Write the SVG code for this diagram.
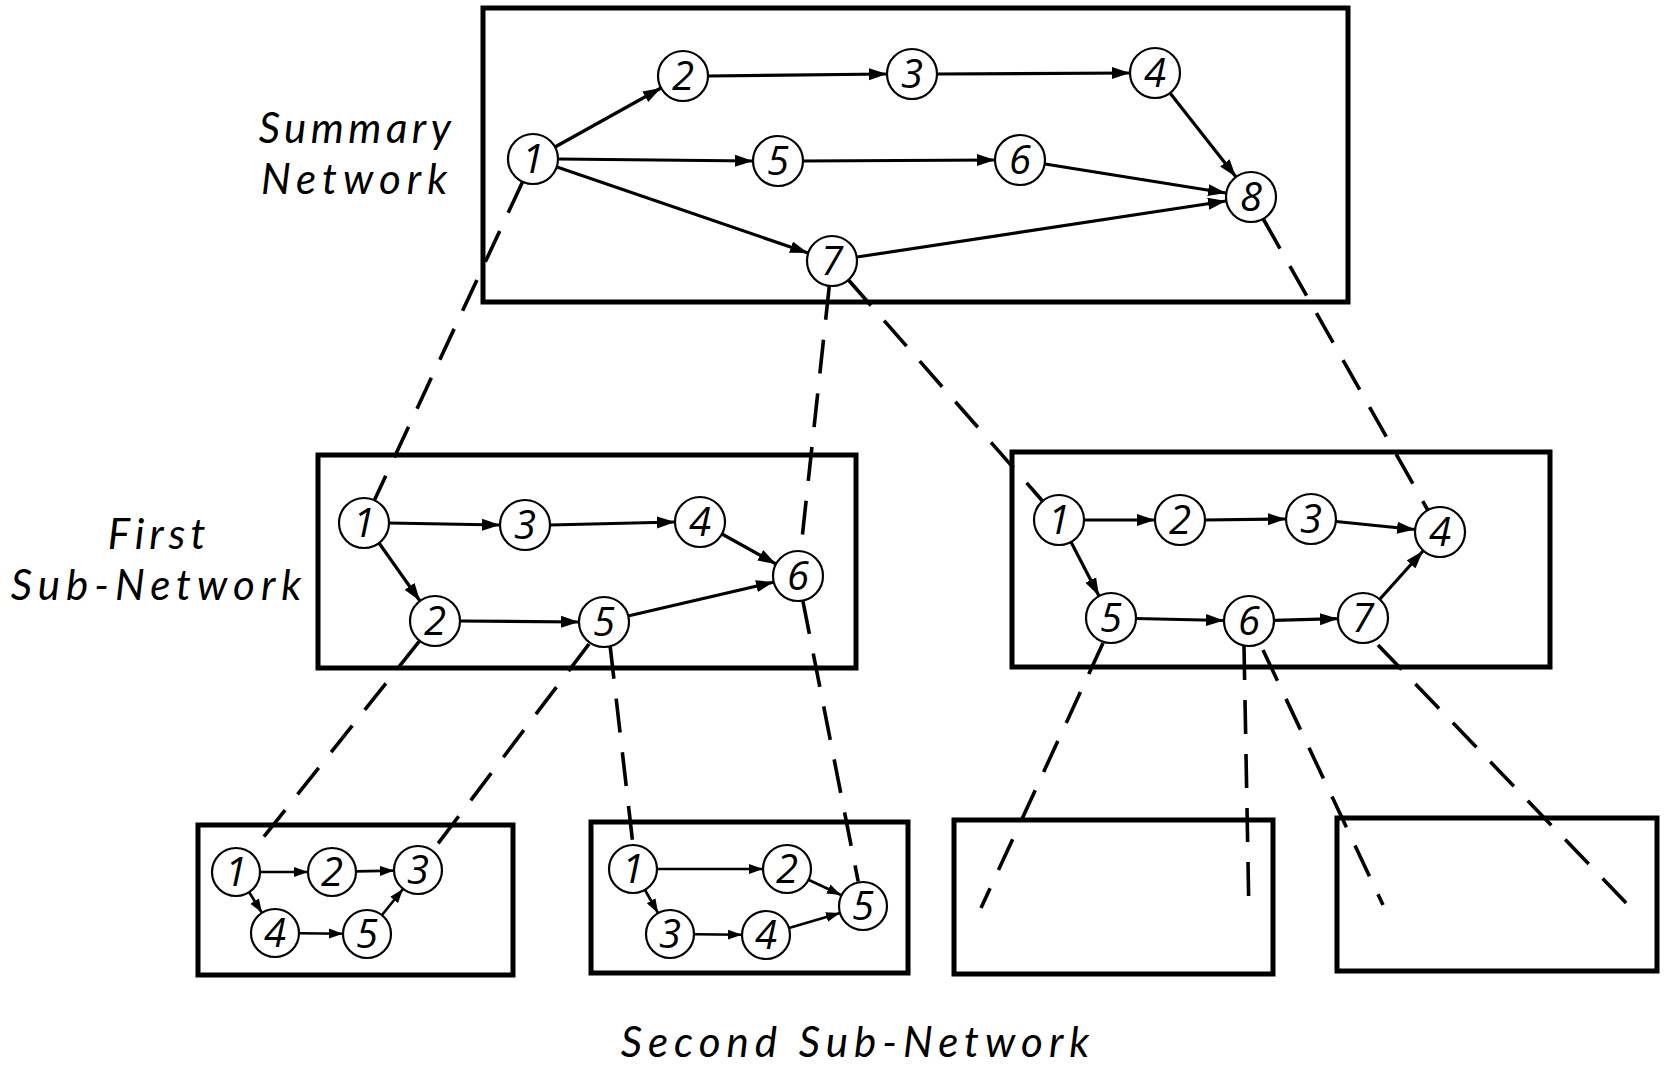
<svg xmlns="http://www.w3.org/2000/svg" width="1668" height="1070" viewBox="0 0 1668 1070">
<style>
.box{fill:none;stroke:#000;stroke-width:5;stroke-linejoin:miter}
.nd circle{fill:#fff;stroke:#000;stroke-width:2.2}
.nd text{font-family:"Open Sans","DejaVu Sans",sans-serif;font-style:italic;font-size:40px;text-anchor:middle;fill:#000}
.e{stroke:#000;stroke-width:3.2;fill:none;marker-end:url(#ah)}
.es{stroke:#000;stroke-width:2.6;fill:none;marker-end:url(#ahs)}
.d{stroke:#000;stroke-width:3.6;fill:none;stroke-dasharray:34 20}
.lbl{font-family:Lato,"Liberation Sans",sans-serif;font-style:italic;font-size:42px;text-anchor:middle;fill:#000;letter-spacing:5px}
</style>
<defs>
<marker id="ah" markerUnits="userSpaceOnUse" markerWidth="19" markerHeight="13" refX="18" refY="6.5" orient="auto"><path d="M0,0.5 L18,6.5 L0,12.5 z" fill="#000"/></marker>
<marker id="ahs" markerUnits="userSpaceOnUse" markerWidth="15" markerHeight="11" refX="14" refY="5.5" orient="auto"><path d="M0,0.5 L14,5.5 L0,10.5 z" fill="#000"/></marker>
</defs>
<rect width="1668" height="1070" fill="#fff"/>

<g id="labels">
<text class="lbl" x="357" y="143"><tspan x="357" y="143" style="letter-spacing:4.5px">Summary</tspan><tspan x="357" y="194" style="letter-spacing:6px">Network</tspan></text>
<text class="lbl" x="159" y="549"><tspan x="159" y="549">First</tspan><tspan x="159" y="600" style="letter-spacing:6px">Sub-Network</tspan></text>
<text class="lbl" x="858" y="1057" style="letter-spacing:6px">Second Sub-Network</text>
</g>

<g id="boxes">
<rect id="box-summary" class="box" x="483" y="8" width="865" height="294"/>
<rect id="box-first" class="box" x="318" y="455" width="538" height="213"/>
<rect id="box-first-b" class="box" x="1012" y="452" width="538" height="215"/>
<rect id="box-second-a" class="box" x="198" y="825" width="315" height="150"/>
<rect id="box-second-b" class="box" x="591" y="822" width="317" height="151"/>
<rect id="box-second-c" class="box" x="954" y="820" width="319" height="154"/>
<rect id="box-second-d" class="box" x="1337" y="818" width="320" height="153"/>
</g>

<g id="connectors">
<!-- summary network -->
<line class="e" x1="555" y1="147" x2="661" y2="88"/>
<line class="e" x1="708" y1="76" x2="887" y2="74"/>
<line class="e" x1="937" y1="74" x2="1130" y2="73"/>
<line class="e" x1="558" y1="159" x2="753" y2="161"/>
<line class="e" x1="803" y1="161" x2="995" y2="160"/>
<line class="e" x1="557" y1="167" x2="808" y2="253"/>
<line class="e" x1="1170" y1="93" x2="1236" y2="177"/>
<line class="e" x1="1045" y1="164" x2="1226" y2="193"/>
<line class="e" x1="857" y1="257" x2="1226" y2="201"/>
<!-- first sub-network -->
<line class="e" x1="389" y1="523" x2="500" y2="525"/>
<line class="e" x1="550" y1="525" x2="675" y2="522"/>
<line class="e" x1="722" y1="534" x2="776" y2="564"/>
<line class="e" x1="379" y1="543" x2="420" y2="601"/>
<line class="e" x1="460" y1="621" x2="579" y2="622"/>
<line class="e" x1="628" y1="616" x2="774" y2="582"/>
<!-- right sub-network -->
<line class="e" x1="1084" y1="520" x2="1155" y2="520"/>
<line class="e" x1="1205" y1="520" x2="1286" y2="519"/>
<line class="e" x1="1336" y1="521.5" x2="1415" y2="529.5"/>
<line class="e" x1="1071" y1="542" x2="1099" y2="596"/>
<line class="e" x1="1136" y1="618.5" x2="1224" y2="620.5"/>
<line class="e" x1="1274" y1="620.3" x2="1338" y2="618.7"/>
<line class="e" x1="1380" y1="599" x2="1423" y2="551"/>
<!-- second sub-network A -->
<line class="es" x1="260" y1="872" x2="308" y2="872"/>
<line class="es" x1="356" y1="871.4" x2="394" y2="870.6"/>
<line class="es" x1="249" y1="892" x2="262" y2="913"/>
<line class="es" x1="299" y1="933.3" x2="343" y2="933.7"/>
<line class="es" x1="382" y1="915" x2="403" y2="889"/>
<!-- second sub-network B -->
<line class="es" x1="657" y1="869" x2="763" y2="869"/>
<line class="es" x1="809" y1="880" x2="841" y2="895"/>
<line class="es" x1="645" y1="890" x2="658" y2="913"/>
<line class="es" x1="694" y1="934.2" x2="742" y2="934.8"/>
<line class="es" x1="789" y1="928" x2="840" y2="913"/>
<!-- dashed expansion lines -->
<line class="d" x1="522.5" y1="182" x2="374.5" y2="500"/>
<line class="d" x1="829.3" y1="286" x2="800.7" y2="551"/>
<line class="d" x1="802.8" y1="600.5" x2="858.2" y2="881.5"/>
<line class="d" x1="848.5" y1="280" x2="1042.5" y2="501"/>
<line class="d" x1="1263.3" y1="219" x2="1427.7" y2="510"/>
<line class="d" x1="419.5" y1="641" x2="251" y2="853"/>
<line class="d" x1="589" y1="644" x2="432.4" y2="851"/>
<line class="d" x1="610" y1="645" x2="633" y2="845"/>
<line class="d" x1="1103" y1="643" x2="981" y2="908"/>
<line class="d" x1="1244" y1="646" x2="1249" y2="916"/>
<line class="d" x1="1263" y1="650" x2="1383" y2="905"/>
<line class="d" x1="1378" y1="645" x2="1630" y2="907"/>
</g>

<g id="s1" class="nd"><circle cx="533" cy="159" r="25"/><text x="533" y="173">1</text></g>
<g id="s2" class="nd"><circle cx="683" cy="76" r="25"/><text x="683" y="90">2</text></g>
<g id="s3" class="nd"><circle cx="912" cy="74" r="25"/><text x="912" y="88">3</text></g>
<g id="s4" class="nd"><circle cx="1155" cy="73" r="25"/><text x="1155" y="87">4</text></g>
<g id="s5" class="nd"><circle cx="778" cy="161" r="25"/><text x="778" y="175">5</text></g>
<g id="s6" class="nd"><circle cx="1020" cy="160" r="25"/><text x="1020" y="174">6</text></g>
<g id="s7" class="nd"><circle cx="832" cy="261" r="25"/><text x="832" y="275">7</text></g>
<g id="s8" class="nd"><circle cx="1251" cy="197" r="25"/><text x="1251" y="211">8</text></g>

<g id="f1" class="nd"><circle cx="364" cy="523" r="25"/><text x="364" y="537">1</text></g>
<g id="f2" class="nd"><circle cx="435" cy="621" r="25"/><text x="435" y="635">2</text></g>
<g id="f3" class="nd"><circle cx="525" cy="525" r="25"/><text x="525" y="539">3</text></g>
<g id="f4" class="nd"><circle cx="700" cy="522" r="25"/><text x="700" y="536">4</text></g>
<g id="f5" class="nd"><circle cx="604" cy="622" r="25"/><text x="604" y="636">5</text></g>
<g id="f6" class="nd"><circle cx="798" cy="576" r="25"/><text x="798" y="590">6</text></g>

<g id="r1" class="nd"><circle cx="1059" cy="520" r="25"/><text x="1059" y="534">1</text></g>
<g id="r2" class="nd"><circle cx="1180" cy="520" r="25"/><text x="1180" y="534">2</text></g>
<g id="r3" class="nd"><circle cx="1311" cy="519" r="25"/><text x="1311" y="533">3</text></g>
<g id="r4" class="nd"><circle cx="1440" cy="532" r="25"/><text x="1440" y="546">4</text></g>
<g id="r5" class="nd"><circle cx="1111" cy="618" r="25"/><text x="1111" y="632">5</text></g>
<g id="r6" class="nd"><circle cx="1249" cy="621" r="25"/><text x="1249" y="635">6</text></g>
<g id="r7" class="nd"><circle cx="1363" cy="618" r="25"/><text x="1363" y="632">7</text></g>

<g id="a1" class="nd"><circle cx="236" cy="872" r="24"/><text x="236" y="886">1</text></g>
<g id="a2" class="nd"><circle cx="332" cy="872" r="24"/><text x="332" y="886">2</text></g>
<g id="a3" class="nd"><circle cx="418" cy="870" r="24"/><text x="418" y="884">3</text></g>
<g id="a4" class="nd"><circle cx="275" cy="933" r="24"/><text x="275" y="947">4</text></g>
<g id="a5" class="nd"><circle cx="367" cy="934" r="24"/><text x="367" y="948">5</text></g>

<g id="b1" class="nd"><circle cx="633" cy="869" r="24"/><text x="633" y="883">1</text></g>
<g id="b2" class="nd"><circle cx="787" cy="869" r="24"/><text x="787" y="883">2</text></g>
<g id="b3" class="nd"><circle cx="670" cy="934" r="24"/><text x="670" y="948">3</text></g>
<g id="b4" class="nd"><circle cx="766" cy="935" r="24"/><text x="766" y="949">4</text></g>
<g id="b5" class="nd"><circle cx="863" cy="906" r="24"/><text x="863" y="920">5</text></g>
</svg>
